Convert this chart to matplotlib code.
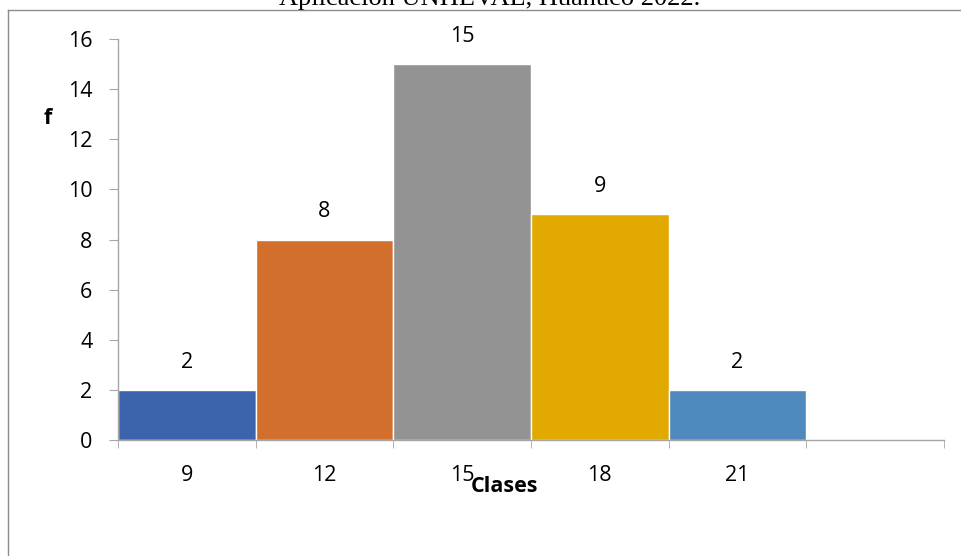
"""Histograma de frecuencias por clases."""

import matplotlib.pyplot as plt
from matplotlib.lines import Line2D
import numpy as np

clases = ["9", "12", "15", "18", "21", ""]
frecuencias = [2, 8, 15, 9, 2]
colores = ["#3C64AD", "#D36F2D", "#939393", "#E2AA00", "#4F8ABE"]
yticks = [0, 2, 4, 6, 8, 10, 12, 14, 16]
titulo = "Aplicación UNHEVAL, Huánuco 2022."

plt.rcParams["font.family"] = ["Open Sans", "DejaVu Sans"]
gris = "#A6A6A6"
fs = 15.5

W, H = 961, 556
fig = plt.figure(figsize=(W / 100, H / 100), dpi=100)
ax = fig.add_axes([118 / W, 116 / H, (944 - 118) / W, (517 - 116) / H])

x = np.arange(len(frecuencias))
ax.bar(x, frecuencias, width=1.0, color=colores, edgecolor="white", linewidth=1.0)
for xi, f in zip(x, frecuencias):
    ax.annotate(str(f), (xi, f), xytext=(0, 20), textcoords="offset points",
                ha="center", va="center", fontsize=fs)

ax.set_xlim(-0.5, len(clases) - 0.5)
ax.set_ylim(0, 16)
ax.set_yticks(yticks)
ax.tick_params(axis="y", length=6.5, color=gris, labelsize=fs, pad=12)

# etiquetas centradas en cada clase, marcas en los límites de clase
ax.set_xticks(np.arange(len(clases)))
ax.set_xticklabels(clases)
ax.set_xticks(np.arange(len(clases) + 1) - 0.5, minor=True)
ax.tick_params(axis="x", which="major", length=0, labelsize=fs, pad=18)
ax.tick_params(axis="x", which="minor", length=6, color=gris)

for s in ("top", "right"):
    ax.spines[s].set_visible(False)
for s in ("left", "bottom"):
    ax.spines[s].set_color(gris)
    ax.spines[s].set_linewidth(1.0)

fig.text(48 / W, 1 - 118 / H, "f", fontsize=fs, fontweight="bold",
         ha="center", va="center")
fig.text(504 / W, 1 - 486 / H, "Clases", fontsize=fs, fontweight="bold",
         ha="center", va="center")

# marco del gráfico
fig.add_artist(Line2D([8 / W, 8 / W], [0, 1 - 9.5 / H], color="#8C8C8C",
                      linewidth=1.0, transform=fig.transFigure))
fig.add_artist(Line2D([8 / W, 1], [1 - 9.5 / H, 1 - 9.5 / H], color="#8C8C8C",
                      linewidth=1.0, transform=fig.transFigure))

fig.text(490 / W, 1 - 5 / H, titulo, fontsize=19, family="Liberation Serif",
         ha="center", va="baseline")

fig.savefig("out.png", dpi=100)
